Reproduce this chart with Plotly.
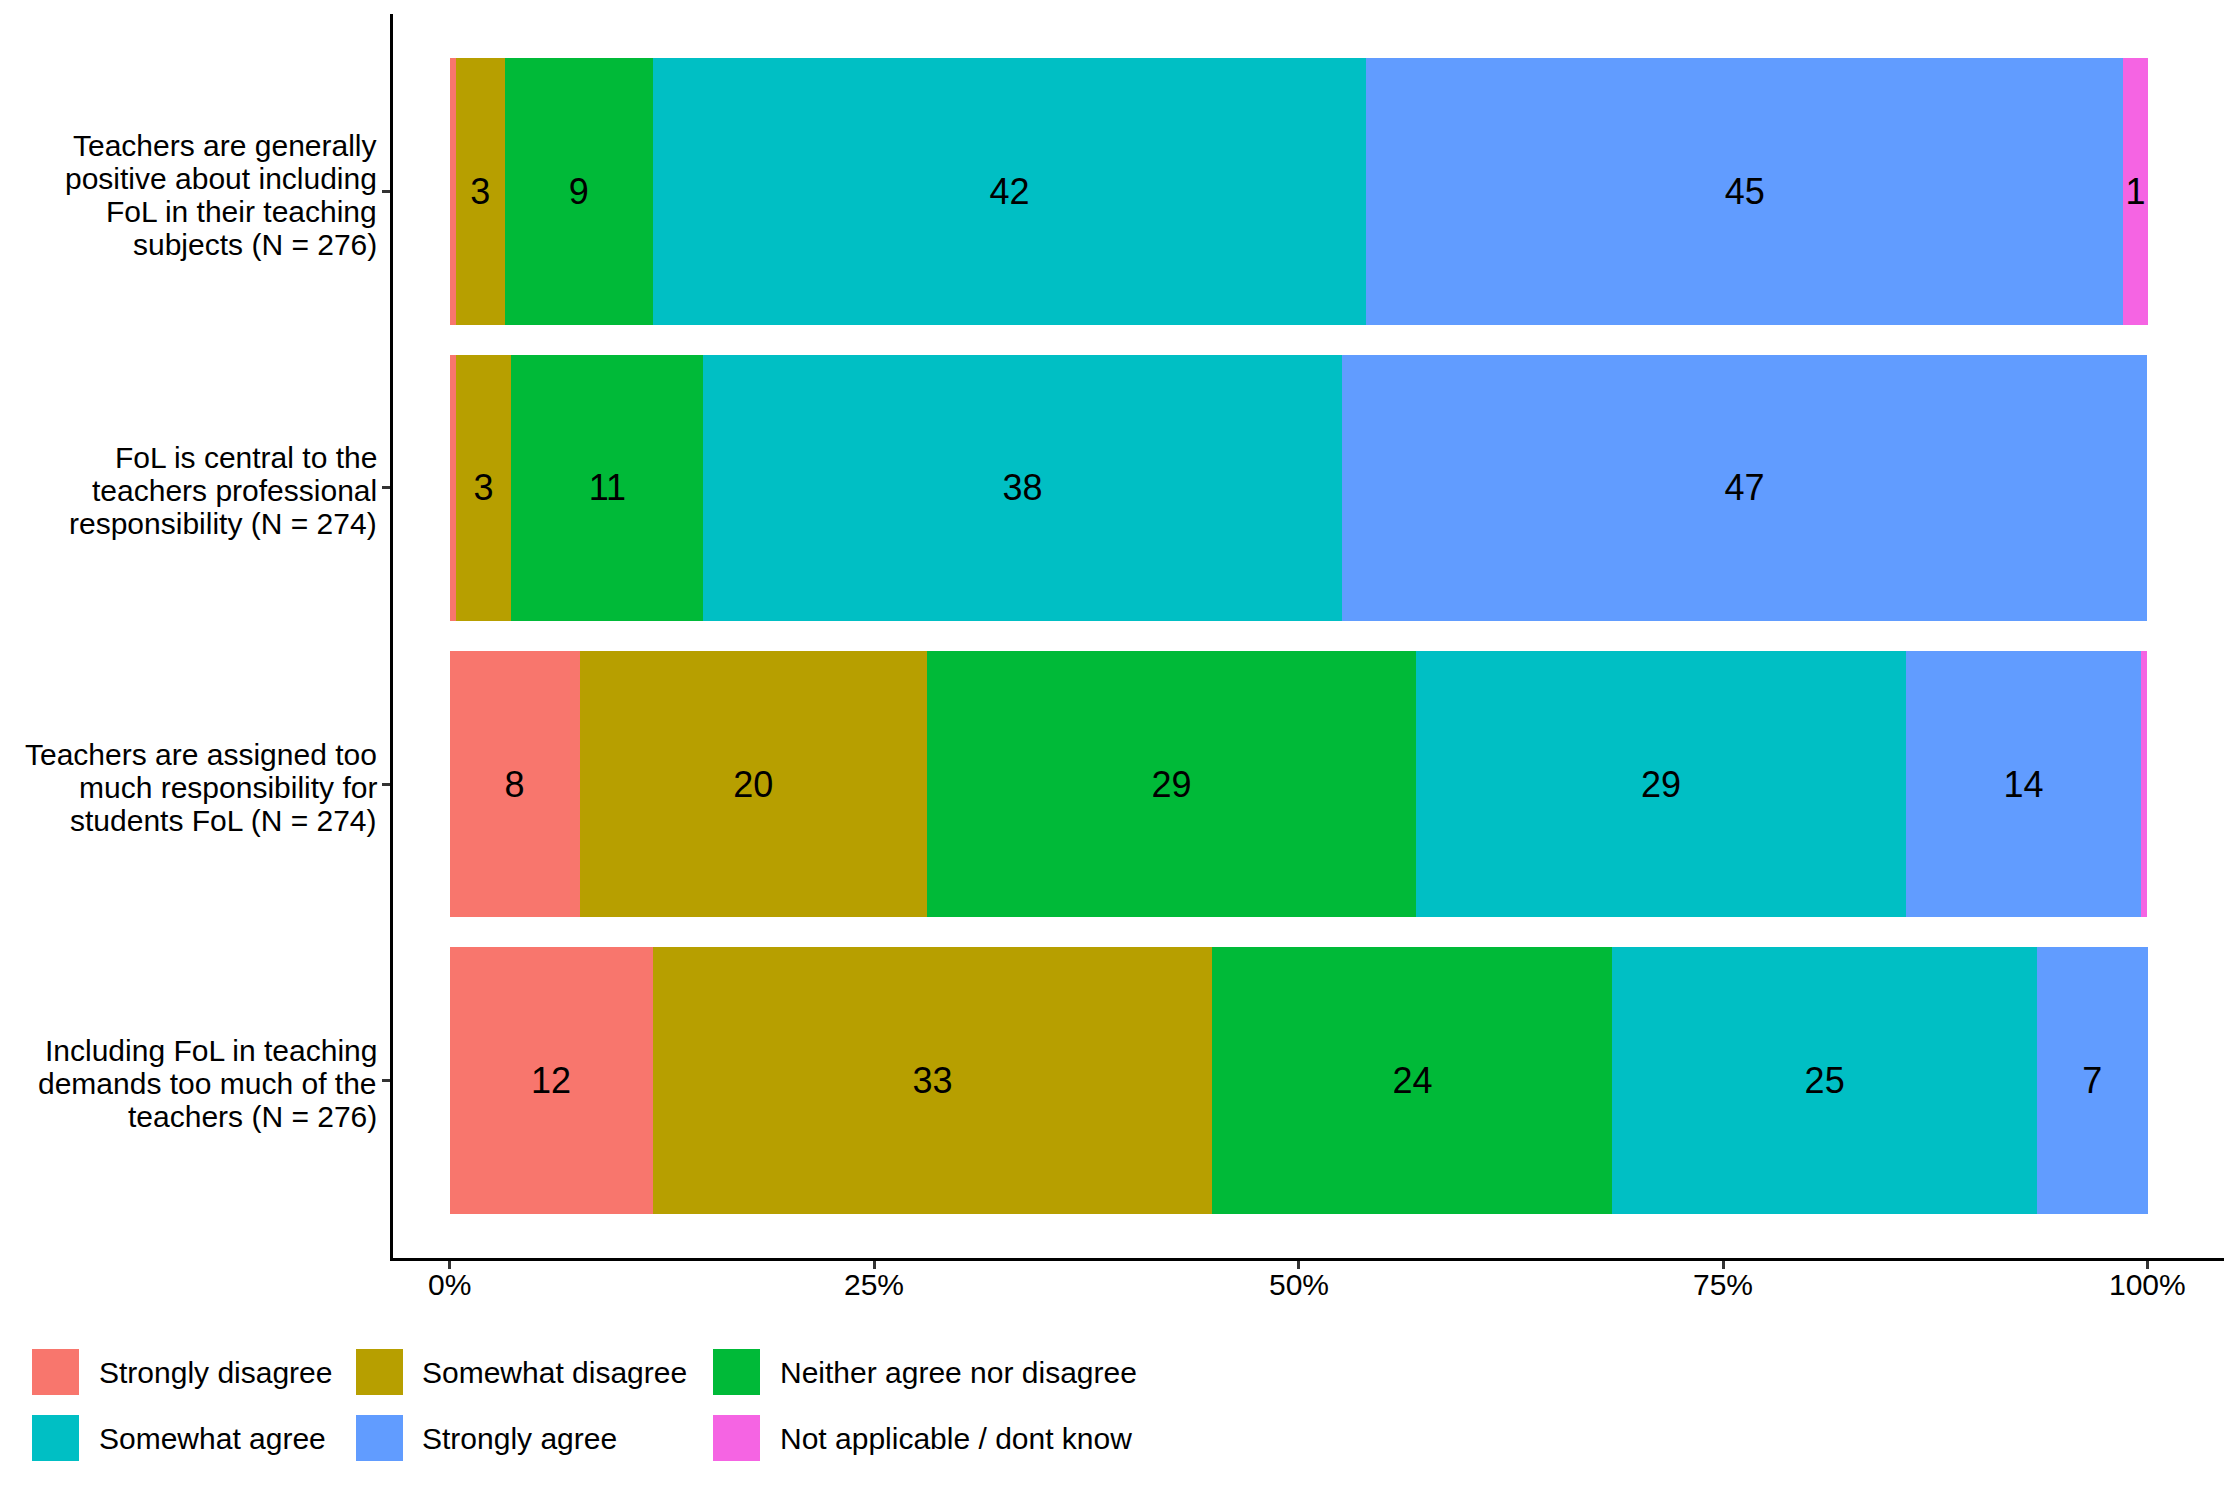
import plotly.graph_objects as go

# ---- data (percent of respondents) ----
statements = [
    "Teachers are generally<br>positive about including<br>FoL in their teaching<br>subjects (N = 276)",
    "FoL is central to the<br>teachers professional<br>responsibility (N = 274)",
    "Teachers are assigned too<br>much responsibility for<br>students FoL (N = 274)",
    "Including FoL in teaching<br>demands too much of the<br>teachers (N = 276)",
]
responses = [
    "Strongly disagree",
    "Somewhat disagree",
    "Neither agree nor disagree",
    "Somewhat agree",
    "Strongly agree",
    "Not applicable / dont know",
]
strongly_disagree = [0.36, 0.36, 7.66, 11.96]
somewhat_disagree = [2.90, 3.28, 20.44, 32.97]
neither = [8.70, 11.31, 28.83, 23.55]
somewhat_agree = [42.03, 37.59, 28.83, 25.00]
strongly_agree = [44.57, 47.45, 13.87, 6.52]
not_applicable = [1.45, 0.0, 0.36, 0.0]

x_tickvals = [0, 25, 50, 75, 100]
x_ticktext = ["0%", "25%", "50%", "75%", "100%"]

colors = ["#F8766D", "#B79F00", "#00BA38", "#00BFC4", "#619CFF", "#F564E3"]
series = [strongly_disagree, somewhat_disagree, neither,
          somewhat_agree, strongly_agree, not_applicable]

FONT = "Liberation Sans, Arial, Helvetica, sans-serif"
W, H = 2240, 1494
OFF = 8  # page body margin offset
L, R, T, B = 393 - OFF, 16 + OFF, 14 - OFF, 236 + OFF

fig = go.Figure()
for name, vals, col in zip(responses, series, colors):
    labels = [str(int(round(v))) if round(v) >= 1 else "" for v in vals]
    fig.add_trace(go.Bar(
        y=statements, x=vals, name=name, orientation="h",
        marker=dict(color=col, line=dict(width=0)),
        width=0.9,
        text=labels, textposition="inside", insidetextanchor="middle",
        textangle=0, constraintext="none",
        textfont=dict(family=FONT, size=36, color="black"),
        showlegend=False, hoverinfo="skip",
    ))

fig.update_layout(
    barmode="stack",
    width=W, height=H,
    margin=dict(l=L, r=R, t=T, b=B, autoexpand=False),
    paper_bgcolor="white", plot_bgcolor="white",
    font=dict(family=FONT, size=30, color="black"),
    uniformtext=dict(mode="show", minsize=36),
)
fig.update_xaxes(
    range=[-3.33, 104.5], tickvals=x_tickvals, ticktext=x_ticktext,
    showgrid=False, zeroline=False, showline=True, linecolor="black",
    linewidth=2.5, ticks="outside", ticklen=8, tickwidth=2.5,
    tickcolor="#333333", showticklabels=False,
)
fig.update_yaxes(
    categoryorder="array", categoryarray=statements,
    range=[3.6, -0.6], showgrid=False, zeroline=False, showline=True,
    linecolor="black", linewidth=2.5, ticks="outside", ticklen=8,
    tickwidth=2.5, tickcolor="#333333", showticklabels=False,
)

# ---- x tick labels ----
for v, t in zip(x_tickvals, x_ticktext):
    fig.add_annotation(xref="x", yref="paper", x=v, y=0, yshift=-8,
                       text=t, showarrow=False, xanchor="center",
                       yanchor="top",
                       font=dict(family=FONT, size=30, color="black"))

# ---- y tick labels, one line each for tight ggplot-like line spacing ----
LINE_H = 33
for cat in statements:
    lines = cat.split("<br>")
    n = len(lines)
    for j, line in enumerate(lines):
        fig.add_annotation(
            xref="paper", yref="y", x=0, y=cat, xshift=-14,
            yshift=((n - 1) / 2 - j) * LINE_H - 3,
            text=line, showarrow=False, xanchor="right", yanchor="middle",
            font=dict(family=FONT, size=30, color="black"))

# ---- custom legend (ggplot-style square keys) ----
pw = W - L - R
ph = H - T - B
def px_x(p):
    return (p - OFF - L) / pw
def px_y(p):
    return (H - B - (p - OFF)) / ph

key_x = [32, 356, 713]
text_x = [97, 420, 778]
row_y = [(1349, 1395), (1415, 1461)]
for i, (name, col) in enumerate(zip(responses, colors)):
    r, c = divmod(i, 3)
    y0, y1 = row_y[r]
    fig.add_shape(type="rect", xref="paper", yref="paper",
                  x0=px_x(key_x[c]), x1=px_x(key_x[c] + 47),
                  y0=px_y(y1), y1=px_y(y0),
                  fillcolor=col, line=dict(width=0))
    fig.add_annotation(xref="paper", yref="paper",
                       x=px_x(text_x[c]), y=px_y((y0 + y1) / 2),
                       text=name, showarrow=False, xanchor="left",
                       yanchor="middle",
                       font=dict(family=FONT, size=30, color="black"))

fig.write_html("out.html")
